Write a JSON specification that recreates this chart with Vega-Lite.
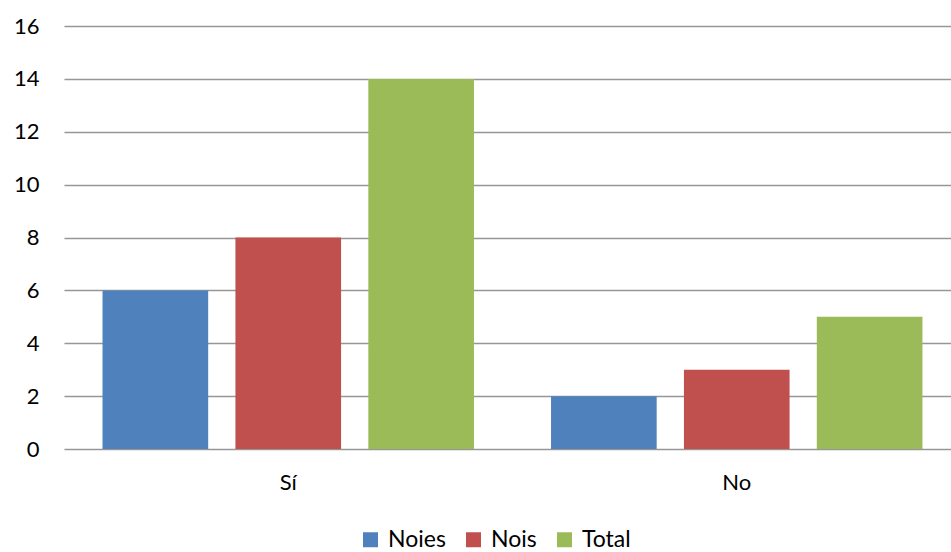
{
  "$schema": "https://vega.github.io/schema/vega-lite/v6.json",
  "width": 888,
  "height": 423,
  "autosize": {"type": "none"},
  "padding": {"left": 63, "top": 26, "right": 0, "bottom": 103},
  "background": "white",
  "data": {
    "values": [
      {"resposta": "Sí", "grup": "Noies", "valor": 6},
      {"resposta": "Sí", "grup": "Nois", "valor": 8},
      {"resposta": "Sí", "grup": "Total", "valor": 14},
      {"resposta": "No", "grup": "Noies", "valor": 2},
      {"resposta": "No", "grup": "Nois", "valor": 3},
      {"resposta": "No", "grup": "Total", "valor": 5}
    ]
  },
  "config": {
    "view": {"stroke": null},
    "font": "Lato"
  },
  "mark": {"type": "bar"},
  "encoding": {
    "x": {
      "field": "resposta",
      "type": "nominal",
      "sort": ["Sí", "No"],
      "scale": {"paddingInner": 0, "paddingOuter": 0, "range": [1, 898]},
      "axis": {
        "title": null,
        "labelAngle": 0,
        "domain": false,
        "ticks": false,
        "labelFont": "Lato",
        "labelFontSize": 22,
        "labelColor": "#000000",
        "labelPadding": 23
      }
    },
    "xOffset": {
      "field": "grup",
      "type": "nominal",
      "sort": ["Noies", "Nois", "Total"],
      "scale": {"paddingInner": 0.205, "paddingOuter": 0.29}
    },
    "y": {
      "field": "valor",
      "type": "quantitative",
      "scale": {"domain": [0, 16], "nice": false},
      "axis": {
        "title": null,
        "values": [0, 2, 4, 6, 8, 10, 12, 14, 16],
        "domain": false,
        "ticks": false,
        "grid": true,
        "gridColor": "#969696",
        "gridWidth": 1.5,
        "labelFont": "Lato",
        "labelFontSize": 22,
        "labelColor": "#000000",
        "labelPadding": 24
      }
    },
    "color": {
      "field": "grup",
      "type": "nominal",
      "sort": ["Noies", "Nois", "Total"],
      "scale": {"domain": ["Noies", "Nois", "Total"], "range": ["#4F81BD", "#C0504D", "#9BBB59"]},
      "legend": {
        "title": null,
        "orient": "none",
        "direction": "horizontal",
        "legendX": 296,
        "legendY": 502,
        "symbolType": "square",
        "symbolSize": 225,
        "symbolStrokeWidth": 0,
        "labelFont": "Lato",
        "labelFontSize": 23,
        "labelColor": "#000000",
        "labelOffset": 6,
        "columnPadding": 16
      }
    }
  }
}
